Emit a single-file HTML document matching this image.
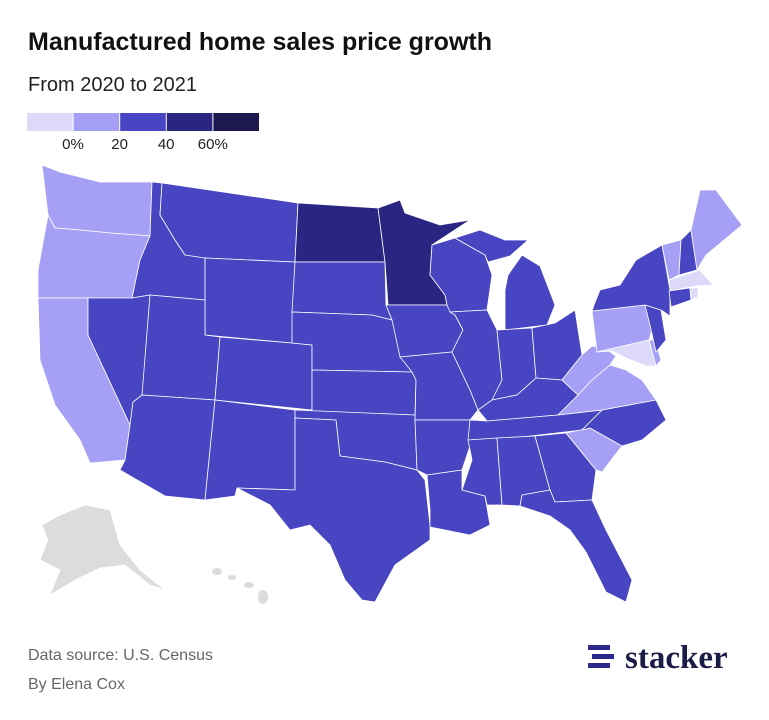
<!DOCTYPE html>
<html><head><meta charset="utf-8">
<style>
body{margin:0;width:769px;height:720px;background:#fff;font-family:"Liberation Sans",sans-serif;overflow:hidden;position:relative}
.t{position:absolute;left:28px;top:28px;font-size:25px;font-weight:bold;color:#111}
.s{position:absolute;left:28px;top:74px;font-size:20px;color:#222}
.f{position:absolute;left:28px;font-size:16px;color:#666}
</style></head><body>
<div class="t">Manufactured home sales price growth</div>
<div class="s">From 2020 to 2021</div>
<svg id="leg" width="300" height="160" style="position:absolute;left:0;top:0"></svg>
<svg id="map" width="769" height="720" style="position:absolute;left:0;top:0"></svg>
<div class="f" style="top:647px">Data source: U.S. Census</div>
<div class="f" style="top:676px">By Elena Cox</div>
<div style="position:absolute;left:588px;top:639px">
<svg width="170" height="36"><rect x="0" y="6" width="22" height="5" fill="#2b2a8c"/><rect x="4" y="15" width="22" height="5" fill="#2b2a8c"/><rect x="0" y="24" width="22" height="5" fill="#2b2a8c"/>
<text x="37" y="29" font-family="Liberation Serif,serif" font-weight="bold" font-size="33" fill="#1c1c48">stacker</text></svg></div>
<script>
const legendTicks=["0%","20","40","60%"];
const legendBreaks=[0,20,40,60];
const colors=["#dcdaf8","#a5a0f5","#4845c3","#2a2580","#1c1850"];
const states=["WA","OR","CA","ID","NV","MT","WY","UT","AZ","CO","NM","ND","SD","NE","KS","OK","TX","MN","IA","MO","AR","LA","WI","IL","MI","MIU","IN","OH","KY","TN","MS","AL","GA","FL","SC","NC","VA","WV","PA","MD","DE","NJ","NY","VT","NH","ME","MA","CT","RI"];
const values=[15,12,14,30,28,30,30,28,30,30,28,45,30,30,30,30,30,50,30,30,30,30,30,30,30,30,30,30,30,30,30,30,30,30,12,30,12,12,12,-3,10,30,30,12,30,14,-2,30,-2];
const shapes={
WA:"42,165 60,172 100,182 152,182 150,236 110,233 80,230 55,228 48,215",
OR:"48,215 55,228 80,230 110,233 150,236 140,260 132,298 88,298 38,298 38,270",
CA:"38,298 88,298 88,335 130,425 125,460 90,463 80,440 55,405 40,360",
ID:"152,182 162,183 160,215 175,240 185,255 205,255 205,300 150,295 132,298 140,260 150,236",
NV:"88,298 132,298 150,295 142,400 133,402 130,425 88,335",
MT:"162,183 298,203 295,262 205,258 185,255 175,240 160,215",
WY:"205,258 295,262 292,343 205,335",
UT:"150,295 205,300 205,335 220,337 215,400 142,395",
AZ:"142,395 215,400 205,500 165,496 120,470 125,460 130,425 133,402",
CO:"220,337 292,343 312,345 312,410 215,400",
NM:"215,400 295,410 295,490 237,488 235,496 205,500",
ND:"298,203 378,208 385,262 295,262",
SD:"295,262 385,262 386,305 392,320 372,315 292,312",
NE:"292,312 372,315 392,320 400,335 412,372 312,370 312,345 292,343",
KS:"312,370 412,372 416,380 415,415 312,412",
OK:"295,410 415,415 417,470 385,462 340,456 336,420 295,418",
TX:"295,418 336,420 340,456 385,462 417,470 425,480 430,525 430,540 395,565 375,602 362,600 345,580 330,545 310,525 290,530 270,505 237,488 295,490",
MN:"378,208 400,200 405,213 440,225 470,220 432,245 430,275 445,295 447,305 388,305 385,262",
IA:"388,305 447,305 455,315 463,330 452,352 400,357 392,320 386,305",
MO:"400,357 452,352 470,390 478,410 470,420 415,420 416,380 412,372",
AR:"415,420 470,420 472,440 462,470 427,475 417,470",
LA:"427,475 462,470 462,490 485,496 490,525 470,535 430,527 430,510",
WI:"432,245 455,238 485,255 492,275 487,310 450,312 447,305 445,295 430,275",
IL:"450,312 487,310 497,330 502,380 490,405 478,410 470,390 452,352 463,330 455,315",
MI:"508,275 522,255 540,266 555,305 547,325 505,330 505,290",
MIU:"455,238 480,230 505,240 528,240 510,256 488,262 485,255",
IN:"497,330 532,328 536,378 517,395 492,400 502,380",
OH:"532,328 555,323 575,310 582,355 562,380 536,378",
KY:"478,410 492,400 517,395 536,378 562,380 578,395 558,415 487,421",
TN:"470,420 487,421 558,415 602,410 582,430 522,437 468,440",
MS:"468,440 497,438 502,505 487,505 485,496 462,490 472,460",
AL:"497,438 535,436 550,490 522,495 520,506 502,505",
GA:"535,436 566,433 596,470 592,500 555,502 550,490",
FL:"520,506 522,495 550,490 555,502 592,500 606,530 632,580 626,602 606,592 586,552 570,530 550,516",
SC:"566,433 590,428 622,446 602,472 596,470",
NC:"582,430 602,410 656,400 666,420 642,440 622,446 590,428",
VA:"558,415 578,395 592,380 610,365 626,370 642,380 656,400 602,410",
WV:"562,380 582,355 592,346 606,349 616,356 610,365 592,380 578,395",
PA:"592,311 645,305 655,320 649,340 597,352",
MD:"597,352 649,340 656,366 646,366 626,358 612,351",
DE:"649,340 655,340 661,360 656,366",
NJ:"645,305 661,310 666,340 656,352 650,325",
NY:"594,305 600,290 620,285 636,260 662,245 670,290 670,316 661,310 645,305 592,311",
VT:"662,245 681,240 679,275 669,280",
NH:"681,240 691,230 697,270 679,275",
ME:"691,230 700,190 716,190 742,225 706,255 697,270",
MA:"669,280 700,270 713,285 696,286 670,291",
CT:"669,291 690,288 691,300 671,307",
RI:"690,288 698,288 698,297 691,300"};
const NS="http://www.w3.org/2000/svg";
function colorScale(v){let i=0;while(i<legendBreaks.length&&v>=legendBreaks[i])i++;return colors[i];}
const map=document.getElementById('map');
const ak=document.createElementNS(NS,'polygon');
ak.setAttribute('points',"60,515 85,505 110,510 120,545 140,570 165,590 150,585 125,565 100,568 75,580 50,595 60,570 40,560 48,540 42,525");
ak.setAttribute('fill','#dcdcdc');ak.setAttribute('stroke','#fff');ak.setAttribute('stroke-width','0.7');


map.appendChild(ak);
[[212,568,222,575],[228,575,236,580],[244,582,254,588],[258,590,268,604]].forEach(r=>{
 const h=document.createElementNS(NS,'ellipse');
 h.setAttribute('cx',(r[0]+r[2])/2);h.setAttribute('cy',(r[1]+r[3])/2);
 h.setAttribute('rx',(r[2]-r[0])/2);h.setAttribute('ry',(r[3]-r[1])/2);
 h.setAttribute('fill','#dcdcdc');
 
 
 map.appendChild(h);
});
states.forEach((s,i)=>{
 const p=document.createElementNS(NS,'polygon');
 p.setAttribute('points',shapes[s]);
 p.setAttribute('fill',colorScale(values[i]));
 p.setAttribute('stroke','#fff');p.setAttribute('stroke-width','0.8');p.setAttribute('stroke-linejoin','round');
 
 
 map.appendChild(p);
});
const leg=document.getElementById('leg');
colors.forEach((c,i)=>{
 const r=document.createElementNS(NS,'rect');
 r.setAttribute('x',27+i*46.6);r.setAttribute('y',113);r.setAttribute('width',45.6);r.setAttribute('height',18);r.setAttribute('fill',c);
 
 
 leg.appendChild(r);
});
legendTicks.forEach((t,i)=>{
 const tx=document.createElementNS(NS,'text');
 tx.setAttribute('x',73+i*46.6);tx.setAttribute('y',149);tx.setAttribute('text-anchor','middle');
 tx.setAttribute('font-size','15');tx.setAttribute('fill','#222');tx.setAttribute('font-family','Liberation Sans,sans-serif');
 tx.textContent=t;
 
 
 leg.appendChild(tx);
});
</script>
</body></html>
